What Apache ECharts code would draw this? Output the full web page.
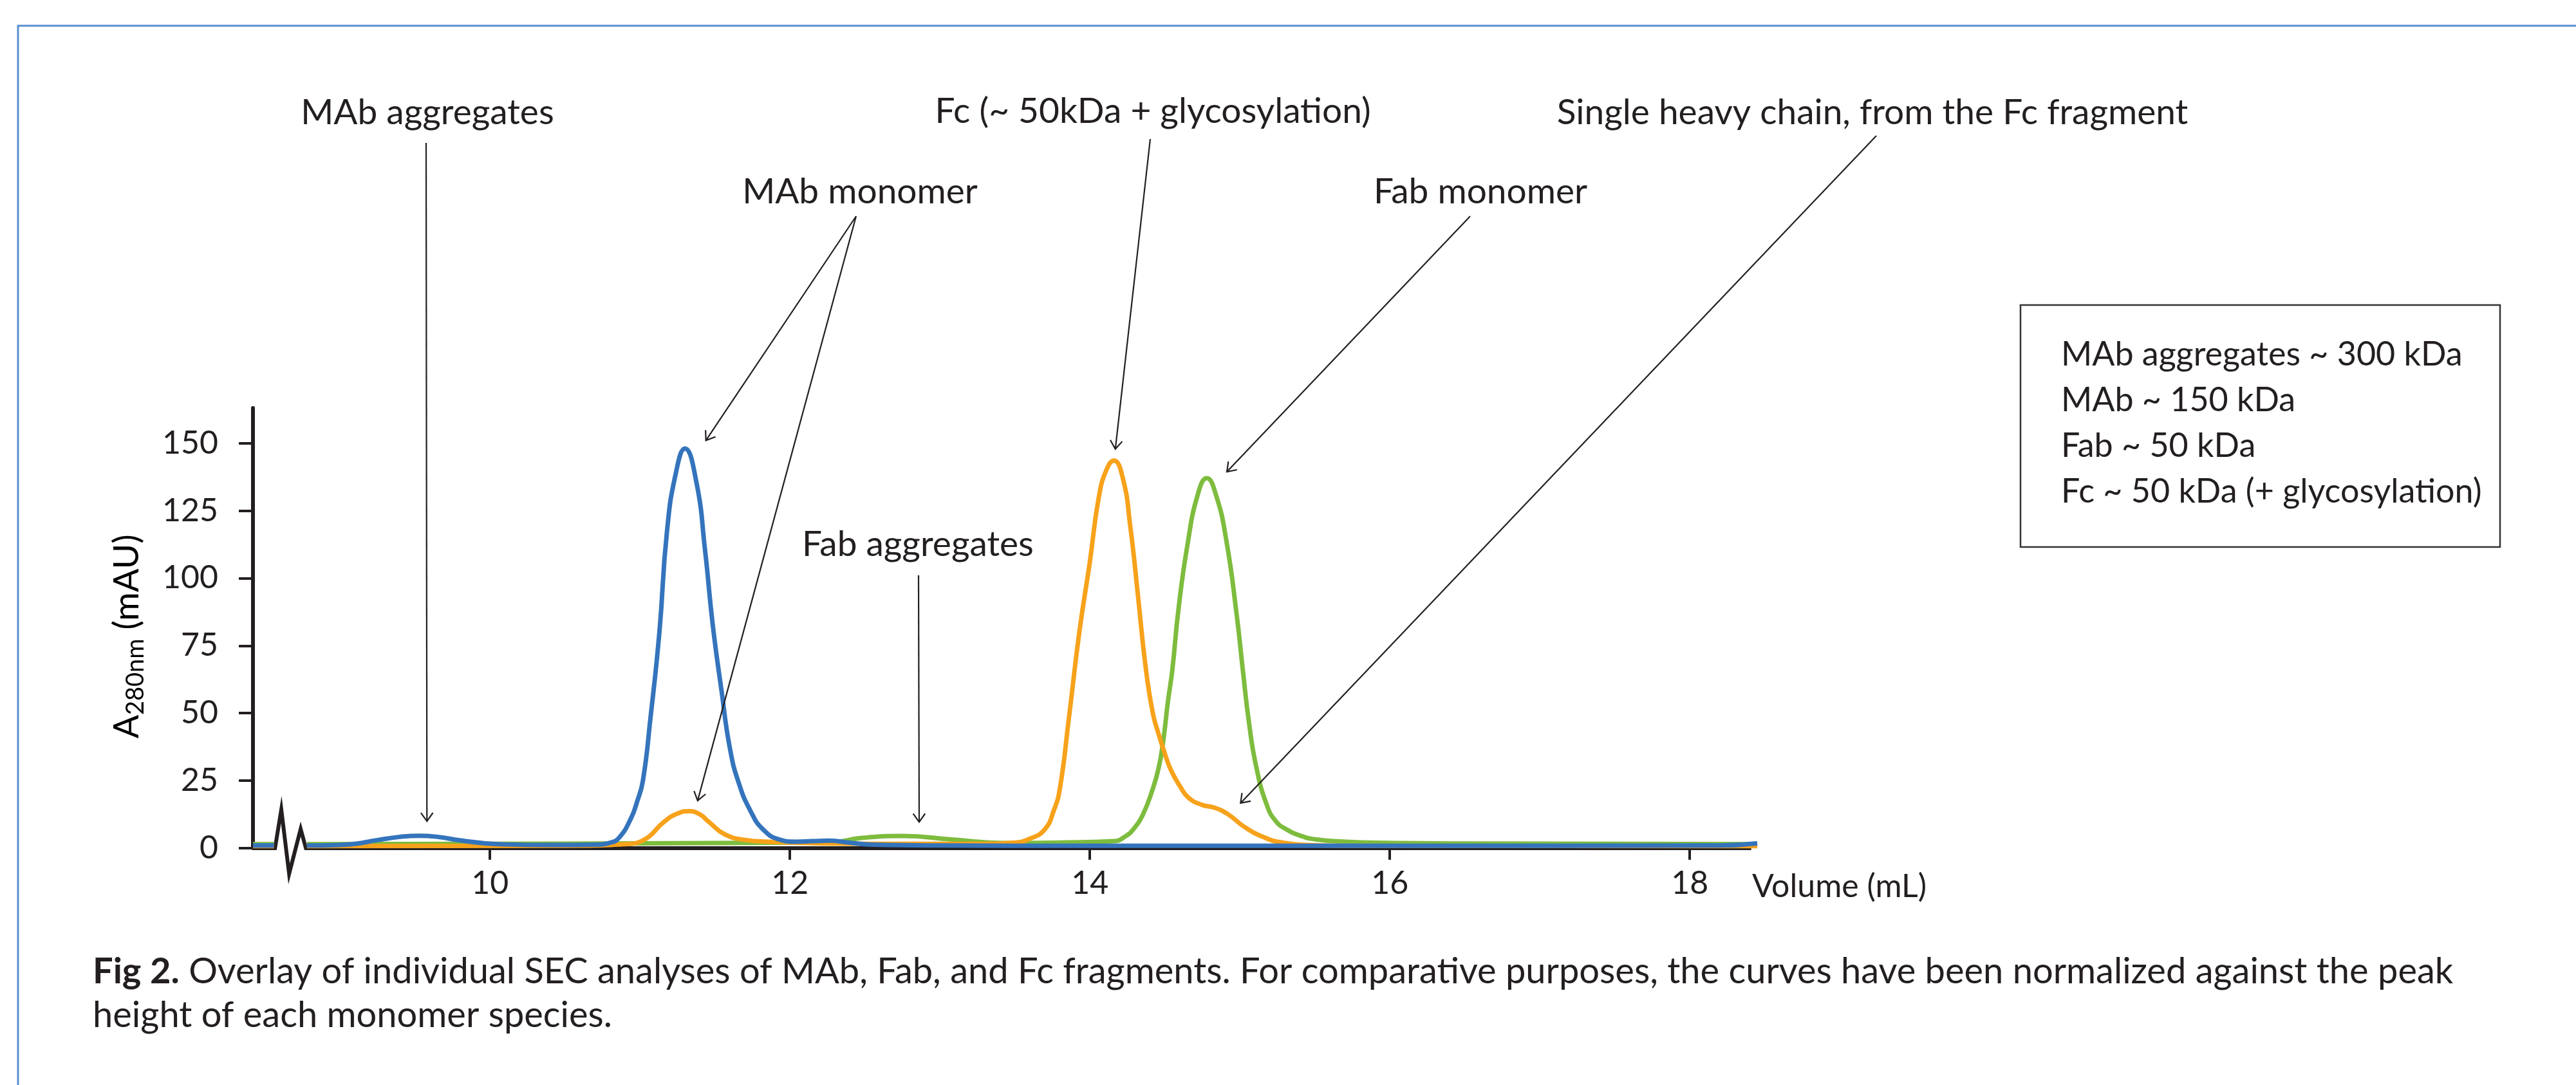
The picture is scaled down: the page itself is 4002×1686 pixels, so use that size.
<!DOCTYPE html>
<html>
<head>
<meta charset="utf-8">
<script src="https://cdn.jsdelivr.net/npm/echarts@6/dist/echarts.min.js"></script>
<style>
  html, body { margin: 0; padding: 0; background: #fff; }
  #chart { width: 4002px; height: 1686px; }
</style>
</head>
<body>
<div id="chart"></div>
<script>
// elution volume (mL) / absorbance (mAU)
// null = gap where the curves are cut by the axis break
const mabVolume = [8.42, 8.56, 8.67, 8.78, 9.0, 9.1, 9.25, 9.4, 9.53, 9.65, 9.8, 9.95, 10.1, 10.4, 10.7, 10.8, 10.86, 10.94, 10.98, 11.02, 11.07, 11.13, 11.18, 11.24, 11.30, 11.375, 11.435, 11.485, 11.545, 11.60, 11.66, 11.74, 11.82, 11.93, 12.04, 12.15, 12.26, 12.4, 12.55, 13.0, 14.0, 16.0, 18.2, 18.45];
const mabAbs    = [1.0, 1.0, null, 1.0, 1.2, 1.6, 3.0, 4.2, 4.6, 4.2, 2.9, 1.9, 1.4, 1.2, 1.3, 2.0, 3.8, 11, 17, 25, 48, 80, 117, 139, 148, 136, 110, 83, 58, 37, 24, 13.5, 7, 3.2, 2.4, 2.6, 2.8, 2.0, 1.3, 1.0, 0.9, 0.9, 1.0, 1.8];

const fcVolume = [8.42, 8.56, 8.67, 8.78, 10.5, 10.9, 11.03, 11.16, 11.25, 11.33, 11.40, 11.46, 11.57, 11.71, 11.85, 12.2, 12.8, 13.3, 13.49, 13.60, 13.70, 13.76, 13.80, 13.86, 13.93, 14.00, 14.06, 14.11, 14.16, 14.22, 14.27, 14.32, 14.37, 14.42, 14.46, 14.50, 14.54, 14.60, 14.66, 14.75, 14.83, 14.92, 15.03, 15.15, 15.27, 15.45, 15.7, 18.45];
const fcAbs    = [0.8, 0.8, null, 0.8, 0.9, 1.5, 3.2, 9.7, 12.8, 13.7, 12.5, 9.7, 5.0, 3.0, 2.4, 1.8, 1.6, 1.6, 2.0, 3.5, 7, 14, 22, 48, 80, 106, 130, 140, 143.5, 137, 119, 94, 68, 50, 42, 35, 29, 23, 18.6, 16, 15, 12.6, 7.9, 4.3, 2.2, 1.2, 0.9, 0.8];

const fabVolume = [8.42, 8.56, 8.67, 8.78, 10.0, 11.0, 12.0, 12.26, 12.48, 12.75, 13.08, 13.43, 13.8, 14.16, 14.24, 14.29, 14.35, 14.42, 14.46, 14.49, 14.52, 14.55, 14.59, 14.65, 14.72, 14.78, 14.84, 14.91, 14.98, 15.02, 15.06, 15.11, 15.18, 15.24, 15.31, 15.41, 15.51, 15.7, 15.9, 16.5, 18.45];
const fabAbs    = [1.5, 1.5, null, 1.5, 1.6, 1.8, 2.0, 2.1, 3.8, 4.5, 3.2, 1.9, 2.1, 2.6, 4.5, 7, 12, 22, 30, 40, 54, 66, 88, 112, 131, 137, 131, 114, 86, 66, 47, 30, 16, 10, 7, 4.5, 3.2, 2.4, 2.0, 1.7, 1.5];

// x axis line with the break mark near its start
const baseVolume = [8.42, 8.567, 8.609, 8.661, 8.738, 8.773, 18.41];
const baseAbs    = [0, 0, 14.3, -9.5, 7.1, 0, 0];

const xTicks = [10, 12, 14, 16, 18];
const yTicks = [0, 25, 50, 75, 100, 125, 150];

const INK = '#231f20';
const FONT = 'Lato, "Noto Sans", sans-serif';

const zip = (xs, ys) => xs.map((x, i) => [x, ys[i]]);

const chart = echarts.init(document.getElementById('chart'));

function curve(name, xs, ys, color) {
  return {
    name: name,
    type: 'line',
    data: zip(xs, ys),
    smooth: 0.5,
    showSymbol: false,
    connectNulls: false,
    lineStyle: { color: color, width: 7, join: 'round' },
    silent: true
  };
}

chart.setOption({
  animation: false,
  backgroundColor: '#fff',
  grid: { left: 393, top: 634, width: 2337, height: 684 },
  xAxis: {
    type: 'value',
    min: 8.42,
    max: 18.45,
    axisLine: { show: false },
    splitLine: { show: false },
    axisTick: { show: true, customValues: xTicks, length: 18, lineStyle: { color: INK, width: 4 } },
    axisLabel: { customValues: xTicks, margin: 30, fontSize: 50, color: INK, fontFamily: FONT }
  },
  yAxis: {
    type: 'value',
    min: 0,
    max: 163,
    axisLine: { show: true, lineStyle: { color: INK, width: 6 } },
    splitLine: { show: false },
    axisTick: { show: true, customValues: yTicks, length: 22, lineStyle: { color: INK, width: 4 } },
    axisLabel: { customValues: yTicks, margin: 54, fontSize: 50, color: INK, fontFamily: FONT }
  },
  series: [
    {
      type: 'line',
      data: zip(baseVolume, baseAbs),
      showSymbol: false,
      clip: false,
      silent: true,
      lineStyle: { color: INK, width: 6, join: 'miter', cap: 'butt' }
    },
    curve('Fab', fabVolume, fabAbs, '#7ebc3e'),
    curve('Fc', fcVolume, fcAbs, '#f7a21b'),
    curve('MAb', mabVolume, mabAbs, '#3474bc')
  ]
});

// annotations: labels sit in page space, arrows point at spots on the curves
const notes = [
  { text: 'MAb aggregates', x: 664, y: 192 },
  { text: 'MAb monomer', x: 1336, y: 315 },
  { text: 'Fc (~ 50kDa + glycosylation)', x: 1791, y: 190 },
  { text: 'Fab monomer', x: 2300, y: 315 },
  { text: 'Single heavy chain, from the Fc fragment', x: 2909, y: 192 },
  { text: 'Fab aggregates', x: 1426, y: 863 }
];

const arrows = [
  { from: [662, 222], to: [9.58, 10.0] },
  { from: [1330, 336], to: [11.44, 151] },
  { from: [1330, 336], to: [11.385, 17.6] },
  { from: [1787, 216], to: [14.17, 147.8] },
  { from: [2284, 336], to: [14.914, 139.4] },
  { from: [2915, 211], to: [15.005, 16.7] },
  { from: [1427, 894], to: [12.862, 9.7] }
];

const graphics = [];

graphics.push({
  type: 'rect',
  shape: { x: 28, y: 40, width: 4200, height: 1900 },
  style: { fill: null, stroke: '#5a8fd0', lineWidth: 3 },
  silent: true
});

notes.forEach(n => {
  graphics.push({
    type: 'text', x: n.x, y: n.y - 17, z: 50, silent: true,
    style: { text: n.text, font: '55px ' + FONT, fill: INK, align: 'center', verticalAlign: 'middle' }
  });
});

arrows.forEach(a => {
  const tip = chart.convertToPixel({ gridIndex: 0 }, a.to);
  const dx = tip[0] - a.from[0], dy = tip[1] - a.from[1];
  const len = Math.hypot(dx, dy);
  const ux = dx / len, uy = dy / len;
  const head = 16, spread = 0.62;
  const arm = s => [
    tip[0] - head * (ux * Math.cos(s) - uy * Math.sin(s)),
    tip[1] - head * (ux * Math.sin(s) + uy * Math.cos(s))
  ];
  graphics.push({
    type: 'line', z: 50, silent: true,
    shape: { x1: a.from[0], y1: a.from[1], x2: tip[0], y2: tip[1] },
    style: { stroke: INK, lineWidth: 2.2 }
  });
  graphics.push({
    type: 'polyline', z: 50, silent: true,
    shape: { points: [arm(spread), tip, arm(-spread)] },
    style: { stroke: INK, lineWidth: 2.2, fill: null }
  });
});

// y axis title with subscript
graphics.push({
  type: 'text', x: 198, y: 989, rotation: Math.PI / 2, z: 50, silent: true,
  style: {
    text: '{a|A}{s|280nm}{a| (mAU)}',
    align: 'center', verticalAlign: 'middle',
    rich: {
      a: { fontSize: 54, fontFamily: FONT, color: INK, lineHeight: 64 },
      s: { fontSize: 38, fontFamily: FONT, color: INK, lineHeight: 30, verticalAlign: 'bottom' }
    }
  }
});

// x axis title
graphics.push({
  type: 'text', x: 2722, y: 1393 - 15, z: 50, silent: true,
  style: { text: 'Volume (mL)', font: '50px ' + FONT, fill: INK, align: 'left', verticalAlign: 'middle' }
});

// molecular weight box
graphics.push({
  type: 'rect', z: 40, silent: true,
  shape: { x: 3139, y: 474, width: 745, height: 376 },
  style: { fill: '#fff', stroke: '#333', lineWidth: 2.5 }
});
graphics.push({
  type: 'text', x: 3202, y: 516, z: 50, silent: true,
  style: {
    text: 'MAb aggregates ~ 300 kDa\nMAb ~ 150 kDa\nFab ~ 50 kDa\nFc ~ 50 kDa (+ glycosylation)',
    font: '52px ' + FONT, fill: INK, lineHeight: 71, align: 'left', verticalAlign: 'top'
  }
});

// caption
graphics.push({
  type: 'text', x: 144, y: 1476, z: 50, silent: true,
  style: {
    text: '{b|Fig 2.} Overlay of individual SEC analyses of MAb, Fab, and Fc fragments. For comparative purposes, the curves have been normalized against the peak\nheight of each monomer species.',
    font: '56px ' + FONT, fill: INK, lineHeight: 68, align: 'left', verticalAlign: 'top',
    rich: { b: { fontWeight: 'bold', fontSize: 56, fontFamily: FONT, color: INK, lineHeight: 68 } }
  }
});

chart.setOption({ graphic: graphics });
</script>
</body>
</html>
